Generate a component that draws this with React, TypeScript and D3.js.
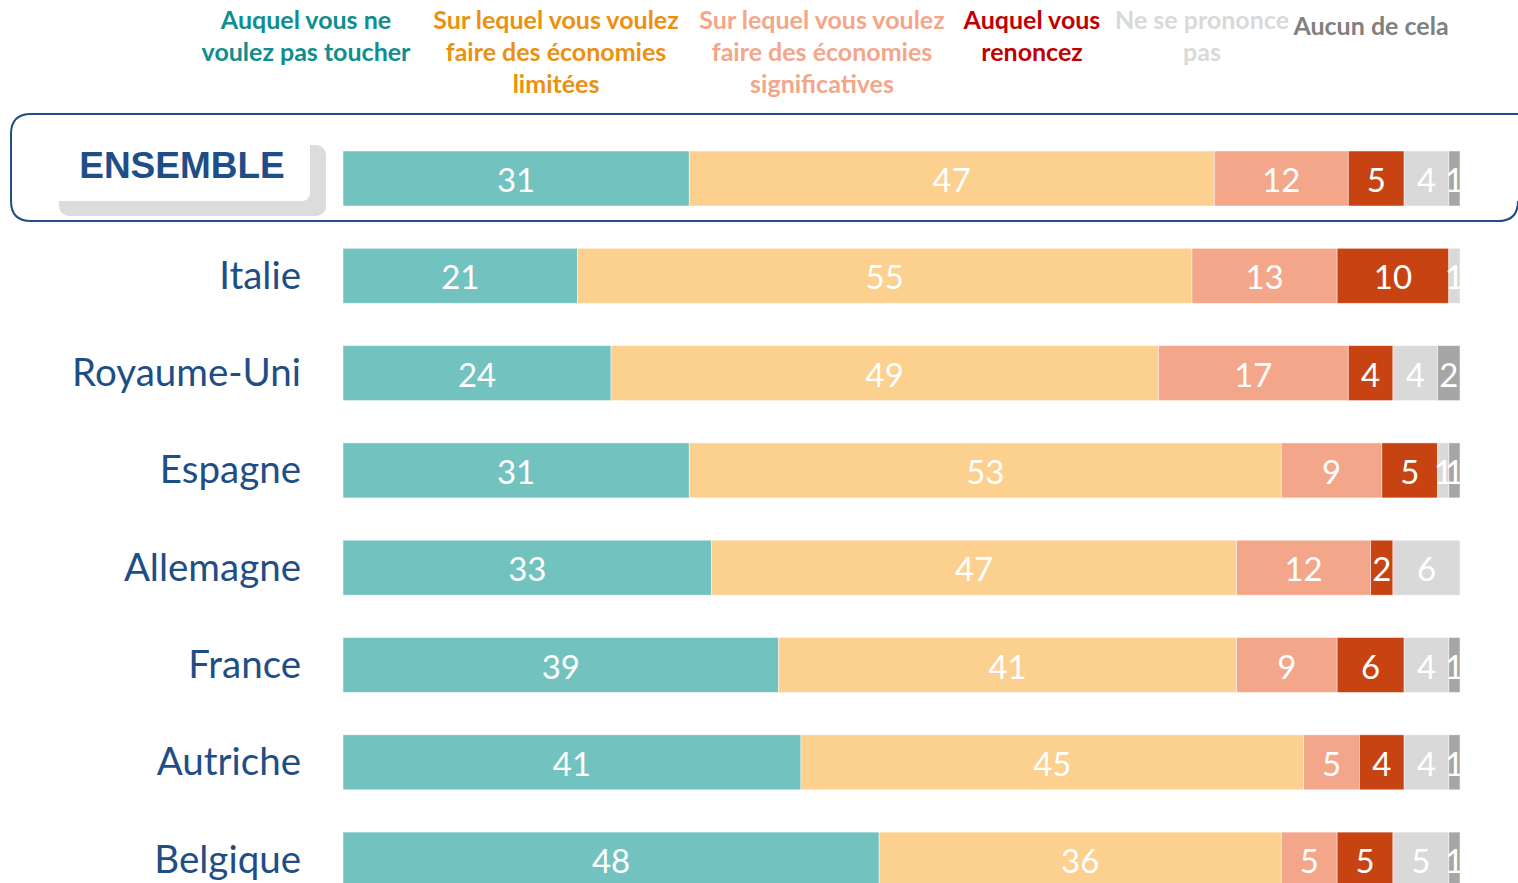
import React, { useEffect } from "react";
import * as d3 from "d3";

// categories (top to bottom)
const countries = ["ENSEMBLE", "Italie", "Royaume-Uni", "Espagne", "Allemagne", "France", "Autriche", "Belgique"];

// series values (%)
const pasToucher = [31, 21, 24, 31, 33, 39, 41, 48];
const ecoLimitees = [47, 55, 49, 53, 47, 41, 45, 36];
const ecoSignif = [12, 13, 17, 9, 12, 9, 5, 5];
const renoncez = [5, 10, 4, 5, 2, 6, 4, 5];
const nsp = [4, 1, 4, 1, 6, 4, 4, 5];
const aucun = [1, 0, 2, 1, 0, 1, 1, 1];

const seriesNames = [
  ["Auquel vous ne", "voulez pas toucher"],
  ["Sur lequel vous voulez", "faire des économies", "limitées"],
  ["Sur lequel vous voulez", "faire des économies", "significatives"],
  ["Auquel vous", "renoncez"],
  ["Ne se prononce", "pas"],
  ["Aucun de cela"],
];

const barColors = ["#72c2c0", "#fcd08f", "#f4a68a", "#c84312", "#d9d9d9", "#a6a6a6"];
const headColors = ["#0e8e8e", "#ec900e", "#f4a68a", "#c00000", "#d9d9d9", "#808080"];
const headX = [306, 556, 822, 1032, 1202, 1371];

const W = 1518;
const H = 883;

function App() {
  useEffect(() => {
    document.body.style.margin = "0";
  }, []);

  const series = [pasToucher, ecoLimitees, ecoSignif, renoncez, nsp, aucun];
  const rows = countries.map((c, i) => {
    const o: any = { country: c };
    series.forEach((s, k) => (o["s" + k] = s[i]));
    return o;
  });
  const keys = series.map((_, k) => "s" + k);
  const stacked = d3.stack().keys(keys)(rows);

  const x = d3.scaleLinear().domain([0, 100]).range([343, 1460]);
  const step = 97.3;
  const bandH = 55;
  const y = d3
    .scaleBand()
    .domain(countries)
    .range([151, 151 + step * 7 + bandH])
    .paddingInner((step - bandH) / step)
    .paddingOuter(0);

  const bh = y.bandwidth();
  const ensY = y("ENSEMBLE") as number;

  return (
    <svg width={W} height={H} style={{ display: "block", background: "#fff" }}>
      {/* header legend */}
      {seriesNames.map((lines, k) => (
        <text
          key={k}
          x={headX[k]}
          textAnchor="middle"
          fontFamily="Lato, 'Open Sans', sans-serif"
          fontWeight="bold"
          fontSize={25}
          fill={headColors[k]}
        >
          {lines.map((l, j) => (
            <tspan key={j} x={headX[k]} y={(k === 5 ? 35 : 29) + j * 32}>
              {l}
            </tspan>
          ))}
        </text>
      ))}

      {/* ENSEMBLE frame */}
      <path
        d="M 1518 114 H 31 Q 11 114 11 134 V 201 Q 11 221 31 221 H 1498 Q 1518 221 1518 201"
        fill="none"
        stroke="#1f4e86"
        strokeWidth={2}
      />
      <rect x={59} y={145} width={267} height={71} rx={10} fill="#dcdcde" />
      <rect x={40} y={130} width={270} height={71} rx={8} fill="#ffffff" />
      <text
        x={182}
        y={ensY + bh / 2 - 1}
        textAnchor="middle"
        fontFamily="'Liberation Sans', Arial, sans-serif"
        fontWeight="bold"
        fontSize={37}
        fill="#1f4e86"
      >
        ENSEMBLE
      </text>

      {/* country labels */}
      {countries.slice(1).map((c) => (
        <text
          key={c}
          x={301}
          y={(y(c) as number) + bh / 2 + 13}
          textAnchor="end"
          fontFamily="Lato, 'Open Sans', sans-serif"
          fontSize={38.5}
          fill="#1f4e86"
        >
          {c}
        </text>
      ))}

      {/* bars */}
      {stacked.map((layer, k) => (
        <g key={layer.key} fill={barColors[k]}>
          {layer.map((d, i) =>
            d[1] - d[0] > 0 ? (
              <rect
                key={i}
                x={x(d[0])}
                y={y(countries[i])}
                width={x(d[1]) - x(d[0])}
                height={bh}
                stroke="#ffffff"
                strokeOpacity={0.6}
                strokeWidth={0.8}
              />
            ) : null
          )}
        </g>
      ))}

      {/* value labels */}
      {stacked.map((layer, k) => (
        <g key={"l" + layer.key}>
          {layer.map((d, i) =>
            d[1] - d[0] > 0 ? (
              <text
                key={i}
                x={(x(d[0]) + x(d[1])) / 2}
                y={(y(countries[i]) as number) + bh / 2 + 13.5}
                textAnchor="middle"
                fontFamily="Lato, 'Open Sans', sans-serif"
                fontSize={33}
                fill="#ffffff"
              >
                {d[1] - d[0]}
              </text>
            ) : null
          )}
        </g>
      ))}
    </svg>
  );
}

export default App;
